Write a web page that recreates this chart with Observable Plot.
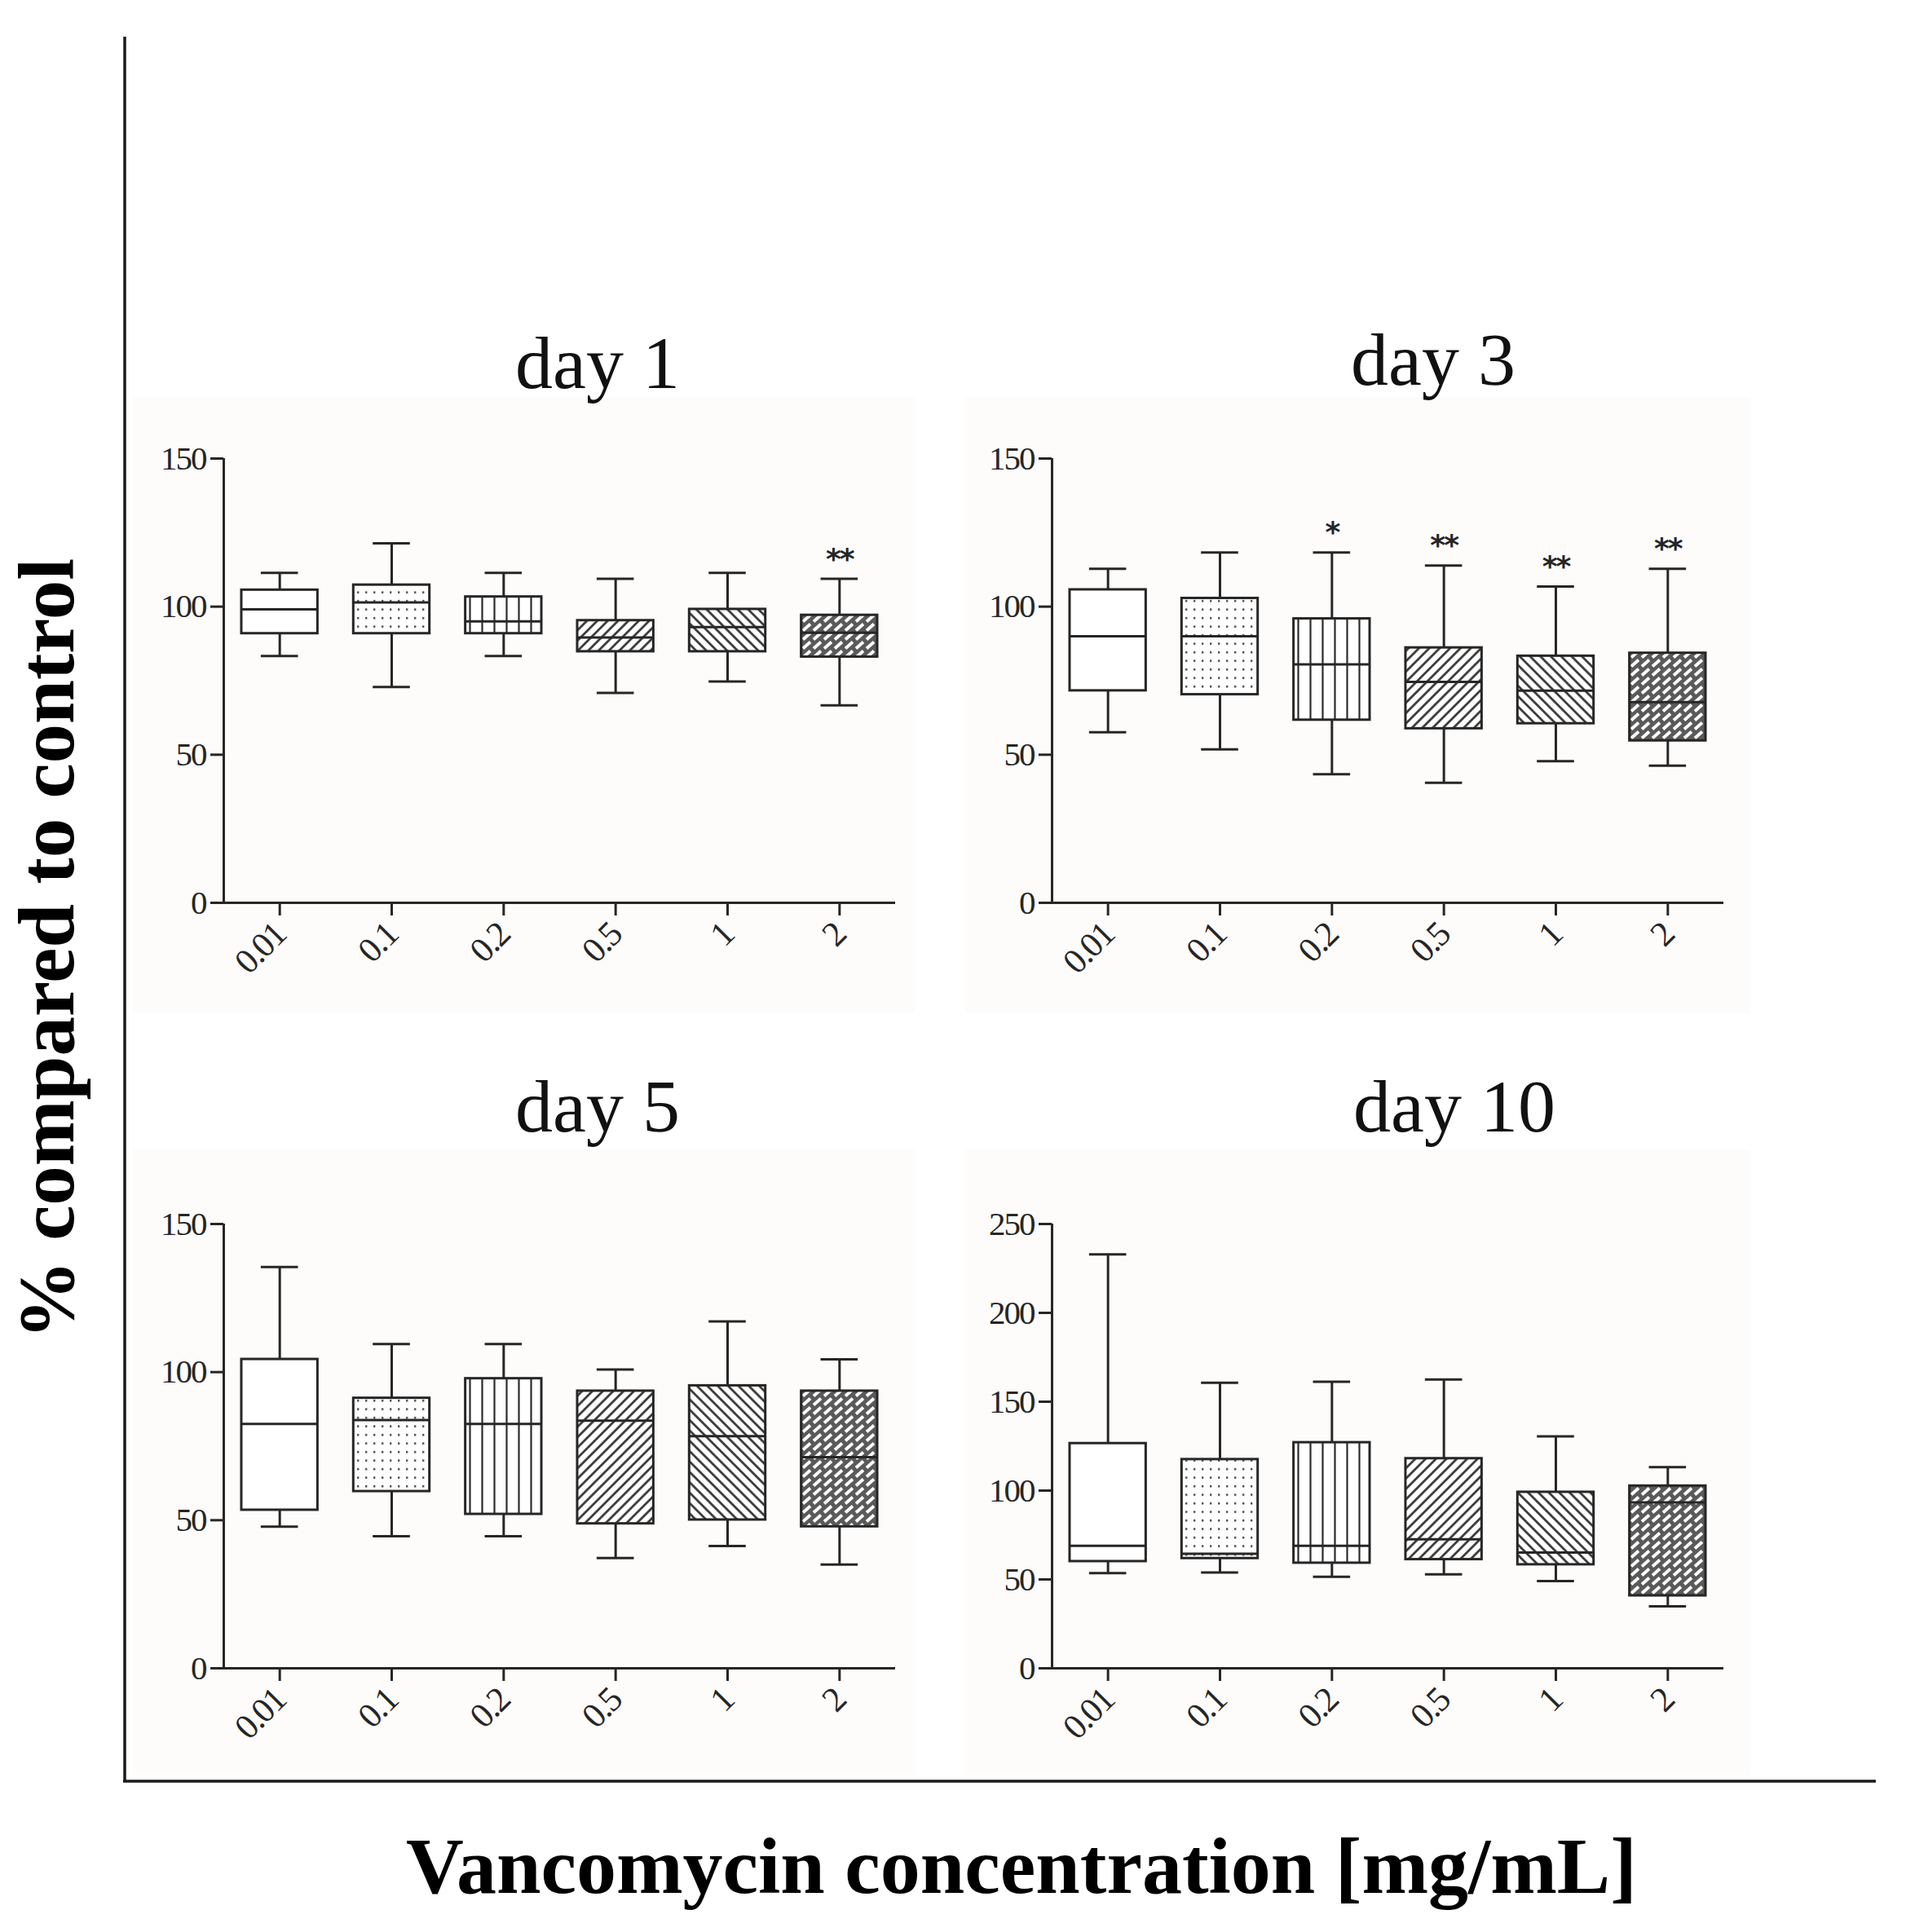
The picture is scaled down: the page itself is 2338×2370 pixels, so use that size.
<!DOCTYPE html>
<html>
<head>
<meta charset="utf-8">
<script src="https://cdn.jsdelivr.net/npm/d3@7"></script>
<script src="https://cdn.jsdelivr.net/npm/@observablehq/plot@0.6"></script>
<style>
  html, body { margin: 0; padding: 0; background: #fff; }
  #page { position: relative; width: 2338px; height: 2370px; overflow: hidden; }
  .bg { position: absolute; background: #fdfcfb; }
  .panel { position: absolute; }
  #overlay { position: absolute; left: 0; top: 0; }
</style>
</head>
<body>
<div id="page">
  <svg width="0" height="0" style="position:absolute">
    <defs>
      <pattern id="p-dots" width="10" height="10.5" patternUnits="userSpaceOnUse">
        <rect width="10" height="10.5" fill="#fff"/>
        <rect x="4" y="4" width="2.4" height="2.4" fill="#444"/>
      </pattern>
      <pattern id="p-vert" width="15" height="10" patternUnits="userSpaceOnUse">
        <rect width="15" height="10" fill="#fff"/>
        <line x1="7.5" y1="0" x2="7.5" y2="10" stroke="#2b2b2b" stroke-width="2.2"/>
      </pattern>
      <pattern id="p-fwd" width="9" height="9" patternUnits="userSpaceOnUse" patternTransform="rotate(45)">
        <rect width="9" height="9" fill="#fff"/>
        <line x1="4.5" y1="0" x2="4.5" y2="9" stroke="#2b2b2b" stroke-width="2.6"/>
      </pattern>
      <pattern id="p-bwd" width="9" height="9" patternUnits="userSpaceOnUse" patternTransform="rotate(-45)">
        <rect width="9" height="9" fill="#fff"/>
        <line x1="4.5" y1="0" x2="4.5" y2="9" stroke="#2b2b2b" stroke-width="2.6"/>
      </pattern>
      <pattern id="p-brick" width="13" height="11" patternUnits="userSpaceOnUse">
        <rect width="13" height="11" fill="#5a5a5a"/>
        <line x1="2" y1="9.5" x2="11" y2="1.5" stroke="#fff" stroke-width="3.8"/>
      </pattern>
    </defs>
  </svg>
  <div class="bg" style="left:163px;top:487px;width:959px;height:756px"></div>
  <div class="bg" style="left:1184px;top:487px;width:963px;height:756px"></div>
  <div class="bg" style="left:163px;top:1410px;width:959px;height:768px"></div>
  <div class="bg" style="left:1184px;top:1410px;width:963px;height:768px"></div>
  <div class="panel" id="day1" style="left:164px;top:522px"></div>
  <div class="panel" id="day3" style="left:1180px;top:522px"></div>
  <div class="panel" id="day5" style="left:164px;top:1461px"></div>
  <div class="panel" id="day10" style="left:1180px;top:1461px"></div>
</div>
<script>
const concentrations = ["0.01", "0.1", "0.2", "0.5", "1", "2"]
const patterns = ["#fff", "url(#p-dots)", "url(#p-vert)", "url(#p-fwd)", "url(#p-bwd)", "url(#p-brick)"]

// day 1
const day1Min    = [83.3, 72.9, 83.3, 70.9, 74.7, 66.7]
const day1Q1     = [90.9, 90.9, 90.9, 84.8, 84.8, 83.0]
const day1Median = [99.1, 101.4, 95.0, 89.6, 93.1, 91.2]
const day1Q3     = [105.6, 107.3, 103.3, 95.3, 99.1, 97.1]
const day1Max    = [111.4, 121.4, 111.4, 109.4, 111.4, 109.4]
const day1Stars  = ["", "", "", "", "", "**"]

// day 3
const day3Min    = [57.6, 51.8, 43.4, 40.5, 47.8, 46.3]
const day3Q1     = [71.6, 70.3, 61.7, 58.8, 60.5, 54.7]
const day3Median = [90.0, 90.0, 80.5, 74.6, 71.6, 67.8]
const day3Q3     = [105.7, 102.8, 95.9, 86.1, 83.3, 84.3]
const day3Max    = [112.8, 118.3, 118.3, 113.9, 106.8, 112.8]
const day3Stars  = ["", "", "*", "**", "**", "**"]

// day 5
const day5Min    = [47.8, 44.6, 44.6, 37.2, 41.3, 35.0]
const day5Q1     = [53.4, 59.7, 52.0, 48.8, 50.1, 47.8]
const day5Median = [82.5, 83.8, 82.5, 83.6, 78.4, 71.3]
const day5Q3     = [104.3, 91.2, 97.8, 93.6, 95.4, 93.6]
const day5Max    = [135.5, 109.5, 109.5, 100.9, 117.1, 104.3]
const day5Stars  = ["", "", "", "", "", ""]

// day 10
const day10Min    = [53.5, 53.9, 51.5, 52.9, 49.1, 34.9]
const day10Q1     = [60.1, 61.8, 59.2, 61.2, 58.3, 40.8]
const day10Median = [68.9, 64.5, 68.9, 72.6, 65.1, 93.4]
const day10Q3     = [126.5, 117.5, 127.0, 118.0, 99.1, 102.6]
const day10Max    = [232.9, 160.7, 161.2, 162.5, 130.5, 113.2]
const day10Stars  = ["", "", "", "", "", ""]

const ink = "#262626"
const boxHalf = 0.34
const capHalf = 0.166

function rowsOf(min, q1, med, q3, max, stars) {
  return concentrations.map((c, i) => ({
    i: i, conc: c, min: min[i], q1: q1[i], median: med[i], q3: q3[i], max: max[i],
    star: stars[i], fill: patterns[i]
  }))
}

function boxPanel(rows, yMax, yTicks) {
  return Plot.plot({
    width: 944,
    height: 695,
    marginLeft: 110,
    marginRight: 10,
    marginTop: 40,
    marginBottom: 110,
    style: {
      background: "transparent",
      fontFamily: "Liberation Serif",
      fontSize: "40px",
      color: ink,
      overflow: "visible",
      letterSpacing: "-2px"
    },
    x: {domain: [-0.5, 5.5]},
    y: {domain: [0, yMax]},
    color: {type: "identity"},
    marks: [
      Plot.axisY({ticks: yTicks, tickSize: 16, tickPadding: 6, strokeWidth: 3, label: null, fontSize: 41}),
      Plot.axisX({ticks: d3.range(6), tickFormat: i => concentrations[i], tickRotate: -45,
        tickSize: 16, tickPadding: 16, strokeWidth: 3, label: null, fontSize: 43}),
      Plot.ruleY([0], {stroke: ink, strokeWidth: 3}),
      Plot.ruleX([-0.5], {y1: 0, y2: yMax, stroke: ink, strokeWidth: 3}),
      // whiskers
      Plot.ruleX(rows, {x: "i", y1: "min", y2: "q1", stroke: ink, strokeWidth: 3}),
      Plot.ruleX(rows, {x: "i", y1: "q3", y2: "max", stroke: ink, strokeWidth: 3}),
      Plot.ruleY(rows, {y: "min", x1: d => d.i - capHalf, x2: d => d.i + capHalf, stroke: ink, strokeWidth: 3}),
      Plot.ruleY(rows, {y: "max", x1: d => d.i - capHalf, x2: d => d.i + capHalf, stroke: ink, strokeWidth: 3}),
      // boxes
      Plot.rect(rows, {x1: d => d.i - boxHalf, x2: d => d.i + boxHalf, y1: "q1", y2: "q3",
        fill: "fill", stroke: ink, strokeWidth: 3}),
      Plot.ruleY(rows, {y: "median", x1: d => d.i - boxHalf, x2: d => d.i + boxHalf, stroke: ink, strokeWidth: 3}),
      // significance
      Plot.text(rows.filter(d => d.star), {x: "i", y: "max", text: "star", dy: -24,
        fontSize: 36, fontWeight: "bold", fontFamily: "DejaVu Sans", fill: ink})
    ]
  })
}

const day1 = boxPanel(rowsOf(day1Min, day1Q1, day1Median, day1Q3, day1Max, day1Stars), 150, [0, 50, 100, 150])
const day3 = boxPanel(rowsOf(day3Min, day3Q1, day3Median, day3Q3, day3Max, day3Stars), 150, [0, 50, 100, 150])
const day5 = boxPanel(rowsOf(day5Min, day5Q1, day5Median, day5Q3, day5Max, day5Stars), 150, [0, 50, 100, 150])
const day10 = boxPanel(rowsOf(day10Min, day10Q1, day10Median, day10Q3, day10Max, day10Stars), 250, [0, 50, 100, 150, 200, 250])

d3.select("#day1").append(() => day1)
d3.select("#day3").append(() => day3)
d3.select("#day5").append(() => day5)
d3.select("#day10").append(() => day10)

// outer frame, panel titles and shared axis labels
const overlay = d3.select("#page").append("svg")
  .attr("id", "overlay")
  .attr("width", 2338)
  .attr("height", 2370)
  .style("pointer-events", "none")

overlay.append("line").attr("x1", 153).attr("x2", 153).attr("y1", 45).attr("y2", 2186)
  .attr("stroke", "#1a1a1a").attr("stroke-width", 3.5)
overlay.append("line").attr("x1", 151).attr("x2", 2301).attr("y1", 2185).attr("y2", 2185)
  .attr("stroke", "#1a1a1a").attr("stroke-width", 3.5)

const titles = [
  {text: "day 1", x: 733, y: 476},
  {text: "day 3", x: 1758, y: 472},
  {text: "day 5", x: 733, y: 1388},
  {text: "day 10", x: 1784, y: 1388}
]
overlay.selectAll("text.title").data(titles).join("text")
  .attr("class", "title")
  .attr("x", d => d.x).attr("y", d => d.y)
  .attr("text-anchor", "middle")
  .attr("font-family", "Liberation Serif")
  .attr("font-size", 92)
  .attr("fill", "#111")
  .text(d => d.text)

overlay.append("text")
  .attr("transform", "translate(90,1164) rotate(-90)")
  .attr("text-anchor", "middle")
  .attr("font-family", "Liberation Serif")
  .attr("font-weight", "bold")
  .attr("font-size", 97)
  .attr("fill", "#000")
  .text("% compared to control")

overlay.append("text")
  .attr("x", 1253).attr("y", 2322)
  .attr("text-anchor", "middle")
  .attr("font-family", "Liberation Serif")
  .attr("font-weight", "bold")
  .attr("font-size", 98)
  .attr("fill", "#000")
  .text("Vancomycin concentration [mg/mL]")
</script>
</body>
</html>
